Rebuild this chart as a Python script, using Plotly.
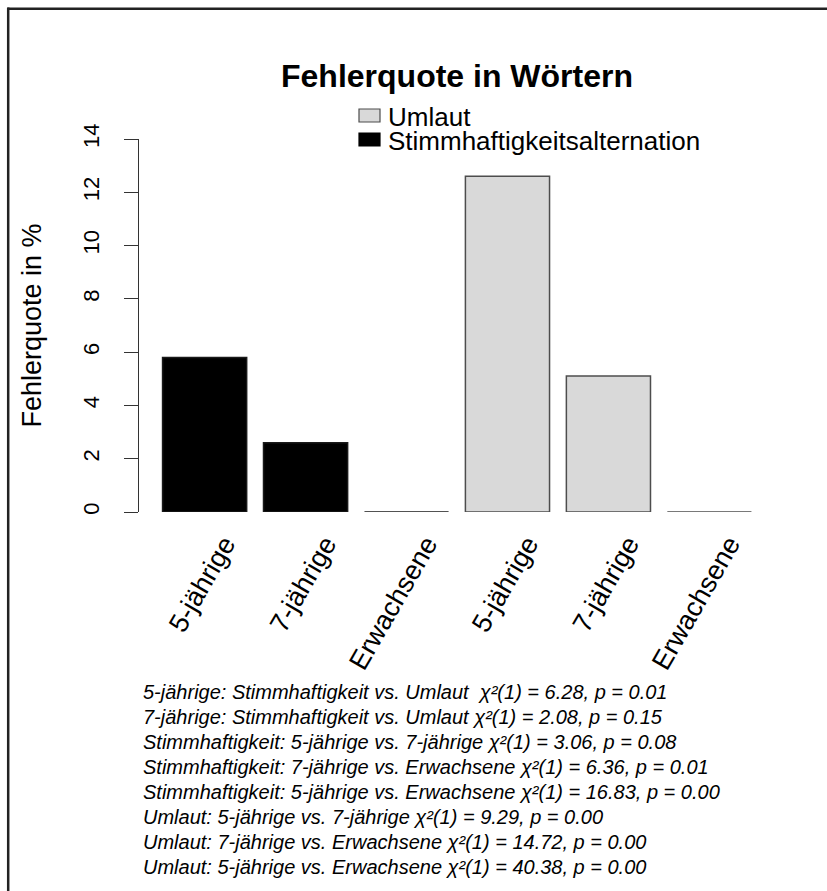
import plotly.graph_objects as go

# ---- data ----
group_labels = ["5-jährige", "7-jährige", "Erwachsene"]
stimm_values = [5.8, 2.6, 0.0]     # Stimmhaftigkeitsalternation
umlaut_values = [12.6, 5.1, 0.0]   # Umlaut
y_ticks = [0, 2, 4, 6, 8, 10, 12, 14]
legend_names = ["Umlaut", "Stimmhaftigkeitsalternation"]
stats_lines = [
    "5-jährige: Stimmhaftigkeit vs. Umlaut  χ²(1) = 6.28, p = 0.01",
    "7-jährige: Stimmhaftigkeit vs. Umlaut χ²(1) = 2.08, p = 0.15",
    "Stimmhaftigkeit: 5-jährige vs. 7-jährige χ²(1) = 3.06, p = 0.08",
    "Stimmhaftigkeit: 7-jährige vs. Erwachsene χ²(1) = 6.36, p = 0.01",
    "Stimmhaftigkeit: 5-jährige vs. Erwachsene χ²(1) = 16.83, p = 0.00",
    "Umlaut: 5-jährige vs. 7-jährige χ²(1) = 9.29, p = 0.00",
    "Umlaut: 7-jährige vs. Erwachsene χ²(1) = 14.72, p = 0.00",
    "Umlaut: 5-jährige vs. Erwachsene χ²(1) = 40.38, p = 0.00",
]

all_labels = group_labels + group_labels
pos_stimm = list(range(len(group_labels)))
pos_umlaut = [len(group_labels) + i for i in range(len(group_labels))]

FONT = "Liberation Sans, Arial, Helvetica, sans-serif"
GRAY = "#D9D9D9"
EDGE = "#4d4d4d"

W, H = 827, 891
L, T = 139, 139
pw, ph = 636, 373
R, B = W - L - pw, H - T - ph

def px_x(p):
    return (p - L) / pw

def px_y(p):
    return (T + ph - p) / ph

fig = go.Figure()
fig.add_trace(go.Bar(
    x=pos_stimm, y=stimm_values, name=legend_names[1],
    marker=dict(color="#000000", line=dict(color="#1a1a1a", width=1.5)),
    showlegend=False,
))
fig.add_trace(go.Bar(
    x=pos_umlaut, y=umlaut_values, name=legend_names[0],
    marker=dict(color=GRAY, line=dict(color=EDGE, width=1.5)),
    showlegend=False,
))

annotations = []
# y-axis title
annotations.append(dict(
    text="Fehlerquote in %", textangle=-90, xref="paper", yref="paper",
    x=0, y=0.5, xshift=-108, xanchor="center", yanchor="middle",
    showarrow=False, font=dict(family=FONT, size=27, color="#000"),
))
# legend (drawn R-style: filled box + label)
legend_fills = [GRAY, "#000000"]
legend_edges = [EDGE, "#000000"]
legend_rows = [115.5, 139.5]
shapes = []
for name, fill, edge, yc in zip(legend_names, legend_fills, legend_edges, legend_rows):
    shapes.append(dict(type="rect", xref="paper", yref="paper",
                       x0=px_x(359), x1=px_x(380), y0=px_y(yc - 6.5), y1=px_y(yc + 6.5),
                       fillcolor=fill, line=dict(color=edge, width=1.2)))
    annotations.append(dict(
        text=name, xref="paper", yref="paper", x=px_x(386), y=px_y(yc + 1),
        xanchor="left", yanchor="middle", showarrow=False,
        font=dict(family=FONT, size=26, color="#000"),
    ))
# statistics lines
for i, line in enumerate(stats_lines):
    annotations.append(dict(
        text=line, xref="paper", yref="paper",
        x=px_x(141), y=px_y(692 + 25 * i), xanchor="left", yanchor="middle",
        showarrow=False, font=dict(family=FONT, size=20, color="#000", style="italic"),
    ))
# figure frame (top and left edges visible)
shapes += [
    dict(type="line", xref="paper", yref="paper",
         x0=px_x(7.5), x1=px_x(W + 20), y0=px_y(8.7), y1=px_y(8.7),
         line=dict(color="#222", width=2.5)),
    dict(type="line", xref="paper", yref="paper",
         x0=px_x(8.2), x1=px_x(8.2), y0=px_y(7.5), y1=px_y(H + 20),
         line=dict(color="#222", width=2.5)),
]

fig.update_layout(
    width=W, height=H,
    margin=dict(l=L, r=R, t=T, b=B, autoexpand=False),
    paper_bgcolor="white", plot_bgcolor="white",
    barmode="overlay", bargap=1 - 1 / 1.2,
    title=dict(
        text="<b>Fehlerquote in Wörtern</b>",
        font=dict(family=FONT, size=32, color="#000"),
        xref="paper", x=0.5, xanchor="center",
        yref="container", y=1 - 76 / H, yanchor="middle",
    ),
    xaxis=dict(
        range=[-0.65, 5.65], tickmode="array",
        tickvals=pos_stimm + pos_umlaut, ticktext=all_labels,
        tickangle=-60, showline=False, showgrid=False, zeroline=False,
        ticks="", tickfont=dict(family=FONT, size=27, color="#000"),
        ticklabelshift=20, ticklabelstandoff=10,
    ),
    yaxis=dict(
        range=[0, 14], tickmode="array", tickvals=y_ticks,
        showline=True, linecolor="#333", linewidth=1.3,
        ticks="outside", ticklen=14, tickcolor="#333", tickwidth=1.3,
        showgrid=False, zeroline=False, tickangle=-90,
        tickfont=dict(family=FONT, size=22, color="#000"),
        ticklabelstandoff=16,
    ),
    annotations=annotations,
    shapes=shapes,
    showlegend=False,
)

fig.write_html(
    "out.html",
    config={"displayModeBar": False},
    post_script="document.body.style.margin='0';document.body.style.overflow='hidden';",
)
